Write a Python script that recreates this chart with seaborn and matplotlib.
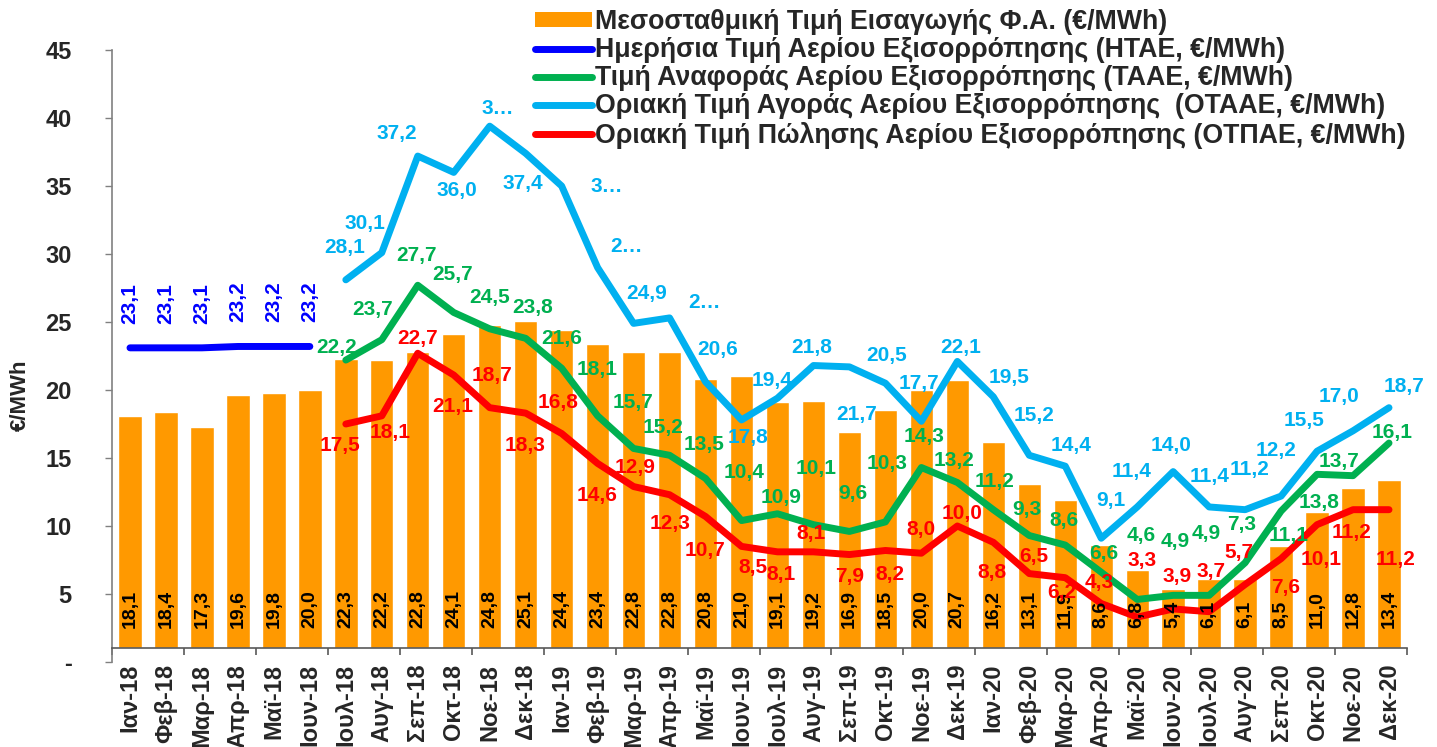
import numpy as np
import pandas as pd
import seaborn as sns
from matplotlib import pyplot as plt
from matplotlib.lines import Line2D
from matplotlib.patches import Patch

months = [
    f"{m}-{y}"
    for y in ("18", "19", "20")
    for m in ("Ιαν", "Φεβ", "Μαρ", "Απρ", "Μαϊ", "Ιουν",
              "Ιουλ", "Αυγ", "Σεπ", "Οκτ", "Νοε", "Δεκ")
]

# Μεσοσταθμική τιμή εισαγωγής (bars), Ιαν-18 .. Δεκ-20
import_price = [
    18.1, 18.4, 17.3, 19.6, 19.8, 20.0, 22.3, 22.2, 22.8, 24.1, 24.8, 25.1,
    24.4, 23.4, 22.8, 22.8, 20.8, 21.0, 19.1, 19.2, 16.9, 18.5, 20.0, 20.7,
    16.2, 13.1, 11.9, 8.6, 6.8, 5.4, 6.1, 6.1, 8.5, 11.0, 12.8, 13.4,
]

# HTAE: Ιαν-18 .. Ιουν-18
htae = [23.1, 23.1, 23.1, 23.2, 23.2, 23.2]

# TAAE, OTAAE, OTPAE: Ιουλ-18 .. Δεκ-20
taae = [
    22.2, 23.7, 27.7, 25.7, 24.5, 23.8, 21.6, 18.1, 15.7, 15.2, 13.5, 10.4,
    10.9, 10.1, 9.6, 10.3, 14.3, 13.2, 11.2, 9.3, 8.6, 6.6, 4.6, 4.9,
    4.9, 7.3, 11.1, 13.8, 13.7, 16.1,
]
otaae = [
    28.1, 30.1, 37.2, 36.0, 39.4, 37.4, 35.0, 29.0, 24.9, 25.3, 20.6, 17.8,
    19.4, 21.8, 21.7, 20.5, 17.7, 22.1, 19.5, 15.2, 14.4, 9.1, 11.4, 14.0,
    11.4, 11.2, 12.2, 15.5, 17.0, 18.7,
]
otpae = [
    17.5, 18.1, 22.7, 21.1, 18.7, 18.3, 16.8, 14.6, 12.9, 12.3, 10.7, 8.5,
    8.1, 8.1, 7.9, 8.2, 8.0, 10.0, 8.8, 6.5, 6.2, 4.3, 3.3, 3.9,
    3.7, 5.7, 7.6, 10.1, 11.2, 11.2,
]
# labels that are cut short in the original chart
otaae_short = {4: "3…", 6: "3…", 7: "2…", 9: "2…"}

legend_labels = [
    "Μεσοσταθμική Τιμή Εισαγωγής Φ.Α. (€/MWh)",
    "Ημερήσια Τιμή Αερίου Εξισορρόπησης (ΗΤΑΕ, €/MWh)",
    "Τιμή Αναφοράς Αερίου Εξισορρόπησης (ΤΑΑΕ, €/MWh)",
    "Οριακή Τιμή Αγοράς Αερίου Εξισορρόπησης  (ΟΤΑΑΕ, €/MWh)",
    "Οριακή Τιμή Πώλησης Αερίου Εξισορρόπησης (ΟΤΠΑΕ, €/MWh)",
]

# label offsets in pixels (dx, dy) from each point
off_otaae = [
    (-1, 32), (-17, 29), (-21, 23), (3, -18), (8, 18), (-3, -30), (45, 0),
    (29, 21), (13, 30), (35, 15), (12, 32), (6, -18), (-5, 18), (-2, 18),
    (7, -48), (1, 28), (-2, 38), (3, 14), (16, 19), (5, 40), (6, 21),
    (10, 38), (-6, 35), (-2, 26), (0, 30), (4, 40), (-5, 46), (-13, 31),
    (-14, 34), (15, 21),
]
off_taae = [
    (-9, 13), (-9, 30), (-1, 30), (-1, 38), (0, 31), (7, 31), (0, 30),
    (0, 46), (-1, 46), (-7, 28), (-1, 34), (3, 48), (4, 16), (3, 56),
    (3, 38), (2, 58), (3, 31), (-3, 22), (1, 28), (-2, 26), (-1, 25),
    (3, 19), (4, 64), (2, 54), (-3, 62), (-4, 38), (8, -24), (2, -28),
    (-14, 14), (3, 11),
]
off_otpae = [
    (-6, -22), (8, -17), (0, 15), (-1, -31), (2, 32), (-1, -32), (-4, 31),
    (-1, -32), (1, 19), (0, -29), (-1, -34), (11, -21), (4, -23), (-2, 18),
    (0, -22), (5, -24), (0, 24), (5, 13), (-1, -30), (5, 17), (-3, -15),
    (-2, 21), (5, 57), (4, 32), (2, 40), (-6, 32), (5, -29), (4, -35),
    (-1, -23), (7, -50),
]

ORANGE = "#FF9900"
BLUE = "#0000FF"
GREEN = "#00B050"
LIGHTBLUE = "#00B0F0"
RED = "#FF0000"


def fmt(v):
    return f"{v:.1f}".replace(".", ",")


sns.set_theme(style="white")
plt.rcParams["font.family"] = ["Liberation Sans", "DejaVu Sans"]
plt.rcParams["font.weight"] = "bold"

pos = np.arange(len(months))
start = len(htae)
df = pd.DataFrame({"pos": pos, "month": months, "import": import_price})
df["htae"] = htae + [np.nan] * (len(months) - start)
df["taae"] = [np.nan] * start + taae
df["otaae"] = [np.nan] * start + otaae
df["otpae"] = [np.nan] * start + otpae

fig = plt.figure(figsize=(14.37, 7.47), dpi=100)
ax = fig.add_axes([112 / 1437, 85 / 747, 1295 / 1437, 612 / 747])

sns.barplot(data=df, x="pos", y="import", color=ORANGE, saturation=1,
            width=0.65, ax=ax, native_scale=True)
# category axis crosses the value axis at 1
for p in ax.patches:
    h = p.get_height()
    p.set_y(1)
    p.set_height(h - 1)

line_kw = dict(lw=5, solid_capstyle="round", solid_joinstyle="round")
for col, color in (("htae", BLUE), ("taae", GREEN),
                   ("otaae", LIGHTBLUE), ("otpae", RED)):
    sns.lineplot(data=df, x="pos", y=col, color=color, ax=ax, **line_kw)

txt = dict(fontsize=15, fontweight="bold")
for i, v in enumerate(import_price):
    ax.text(i, 2.5, fmt(v), rotation=90, ha="center", va="bottom",
            color="black", fontsize=14, fontweight="bold")
for i, v in enumerate(htae):
    ax.annotate(fmt(v), (i, v), xytext=(0, 24), textcoords="offset pixels",
                rotation=90, ha="center", va="bottom", color=BLUE, **txt)
for vals, offs, color in ((taae, off_taae, GREEN),
                          (otaae, off_otaae, LIGHTBLUE),
                          (otpae, off_otpae, RED)):
    for k, (v, (dx, dy)) in enumerate(zip(vals, offs)):
        label = fmt(v)
        if vals is otaae and k in otaae_short:
            label = otaae_short[k]
        ax.annotate(label, (start + k, v), xytext=(dx, dy),
                    textcoords="offset pixels", ha="center", va="center",
                    color=color, **txt)

for s in ("top", "right"):
    ax.spines[s].set_visible(False)
ax.spines["bottom"].set_position(("data", 1))
ax.spines["left"].set_color("#808080")
ax.spines["bottom"].set_color("#595959")
ax.spines["left"].set_linewidth(1.2)
ax.spines["bottom"].set_linewidth(1.2)

ax.set_xlim(-0.5, len(months) - 0.5)
ax.set_ylim(0, 45)
ax.set_xlabel("")
ax.set_ylabel("")

yt = np.arange(0, 46, 5)
ax.set_yticks(yt)
ax.set_yticklabels(["-"] + [str(t) for t in yt[1:]], fontsize=17,
                   fontweight="bold")
ax.set_xticks(pos)
ax.set_xticklabels(months, rotation=90, fontsize=17, fontweight="bold",
                   va="top", ha="center")
ax.set_xticks(np.arange(-0.5, len(months), 2), minor=True)
ax.tick_params(axis="x", which="major", length=0, pad=11, bottom=True)
ax.tick_params(axis="x", which="minor", length=5, width=1.2,
               direction="out", color="#595959", bottom=True)
ax.tick_params(axis="y", length=5, width=1, direction="out",
               color="#808080", pad=24, left=True)

fig.text(20 / 1437, 1 - 395 / 747, "€/MWh", rotation=90, ha="center",
         va="center", fontsize=16, fontweight="bold")

handles = [Patch(facecolor=ORANGE, edgecolor="none")]
for color in (BLUE, GREEN, LIGHTBLUE, RED):
    handles.append(Line2D([], [], color=color, **line_kw))
fig.legend(handles, legend_labels, loc="upper left",
           bbox_to_anchor=(535 / 1437, 1 - 9 / 747), frameon=False,
           prop=dict(size=19.3, weight="bold"), labelspacing=0.08,
           handlelength=2.14, handletextpad=0.11, handleheight=0.5,
           borderpad=0, borderaxespad=0)

fig.savefig("out.png", dpi=100)
